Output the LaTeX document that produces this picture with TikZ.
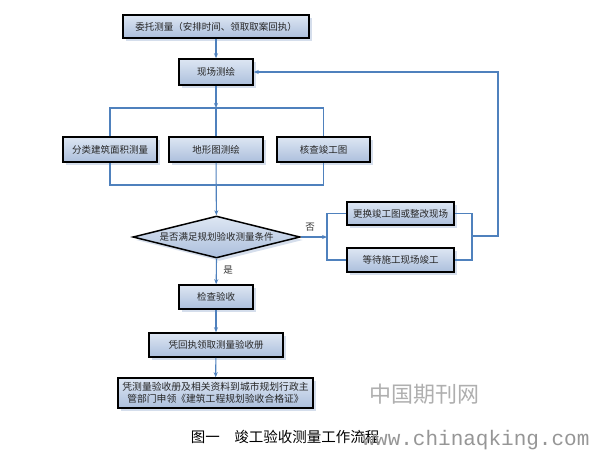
\documentclass[tikz,border=0pt]{standalone}
\usepackage{fontspec}
\newfontfamily\cjk{Noto Sans CJK SC}
\newfontfamily\wmono{Liberation Mono}
\usetikzlibrary{shapes.geometric,shadows,arrows.meta}
\definecolor{lineblue}{RGB}{79,129,189}
\definecolor{boxtop}{RGB}{221,230,243}
\definecolor{boxbot}{RGB}{172,191,220}
\definecolor{shadowc}{RGB}{196,208,228}
\definecolor{wmgray}{RGB}{150,150,150}
\definecolor{wmlight}{RGB}{175,175,175}
\tikzset{
  box/.style={draw=black, line width=1.5pt, top color=boxtop, bottom color=boxbot,
    font=\cjk\fontsize{9.5}{12}\selectfont, text=black!85, inner sep=0pt,
    drop shadow={shadow xshift=3pt, shadow yshift=-3pt, fill=shadowc, opacity=0.7}},
  dec/.style={box, shape=diamond, aspect=4},
  conn/.style={draw=lineblue, line width=1.1pt},
  arr/.style={conn, -{Stealth[length=5pt,width=4pt]}},
  lbl/.style={font=\cjk\fontsize{9.5}{12}\selectfont, text=black!80, inner sep=0pt}
}
\begin{document}
\begin{tikzpicture}[x=1pt,y=-1pt]
\useasboundingbox (0,0) rectangle (591,453);
\fill[white] (0,0) rectangle (591,453);
% nodes
\node[box, minimum width=186pt, minimum height=23pt] (b1) at (216,26.5) {委托测量（安排时间、领取取案回执）};
\node[box, minimum width=74pt, minimum height=26pt] (b2) at (216,72) {现场测绘};
\node[box, minimum width=94pt, minimum height=25pt] (ba) at (110,149.5) {分类建筑面积测量};
\node[box, minimum width=94pt, minimum height=25pt] (bb) at (216,149.5) {地形图测绘};
\node[box, minimum width=93pt, minimum height=25pt] (bc) at (323.5,149.5) {核查竣工图};
\node[dec, minimum width=167pt, minimum height=42pt] (dm) at (216.5,237) {\makebox[0pt]{是否满足规划验收测量条件}};
\node[box, minimum width=107pt, minimum height=23pt] (bd) at (400.5,213.5) {更换竣工图或整改现场};
\node[box, minimum width=107pt, minimum height=24pt] (be) at (400.5,260) {等待施工现场竣工};
\node[box, minimum width=74pt, minimum height=24pt] (bf) at (216,297) {检查验收};
\node[box, minimum width=134pt, minimum height=24pt] (bg) at (216,345) {凭回执领取测量验收册};
\node[box, minimum width=195pt, minimum height=30pt, align=center,
  font=\cjk\fontsize{9.8}{12.5}\selectfont] (bh) at (215.5,393)
  {凭测量验收册及相关资料到城市规划行政主\\管部门申领《建筑工程规划验收合格证》};
% coordinates
\coordinate (bus1) at (216,108);
\coordinate (bus1l) at (110,108);
\coordinate (bus1r) at (323.5,108);
\coordinate (bus2l) at (110,185);
\coordinate (bus2r) at (323.5,185);
\coordinate (lb) at (327,237);
\coordinate (lbt) at (327,213.5);
\coordinate (lbb) at (327,260);
\coordinate (rbt) at (472,213.5);
\coordinate (rbb) at (472,260);
\coordinate (rbm) at (472,236);
\coordinate (lpb) at (498,236);
\coordinate (lpt) at (498,72);
% connectors
\draw[arr] (b1) -- (b2);
\draw[arr] (b2) -- (bus1);
\draw[conn] (bus1) -- (bb);
\draw[conn] (ba.north) -- (bus1l) -- (bus1r) -- (bc.north);
\draw[conn] (ba.south) -- (bus2l) -- (bus2r) -- (bc.south);
\draw[arr] (bb) -- (dm);
\draw[arr] (dm.east) -- (lb);
\draw[conn] (bd.west) -- (lbt) -- (lbb) -- (be.west);
\draw[conn] (bd.east) -- (rbt) -- (rbb) -- (be.east);
\draw[arr] (rbm) -- (lpb) -- (lpt) -- (b2.east);
\draw[arr] (dm.south) -- (bf);
\draw[arr] (bf) -- (bg);
\draw[arr] (bg) -- (bh);
\node[lbl] (no) at (310,227) {否};
\node[lbl] (yes) at (228,270) {是};
% caption
\node[font=\cjk\fontsize{14.5}{16}\selectfont, inner sep=0pt] (cap) at (285,437) {图一\quad 竣工验收测量工作流程};
% watermark
\node[font=\cjk\fontsize{22}{24}\selectfont, text=wmlight, inner sep=0pt] (wm1) at (424,394) {中国期刊网};
\node[font=\wmono\fontsize{21}{24}\selectfont, text=wmgray, inner sep=0pt] (wm2) at (476,440) {www.chinaqking.com};
\end{tikzpicture}
\end{document}
